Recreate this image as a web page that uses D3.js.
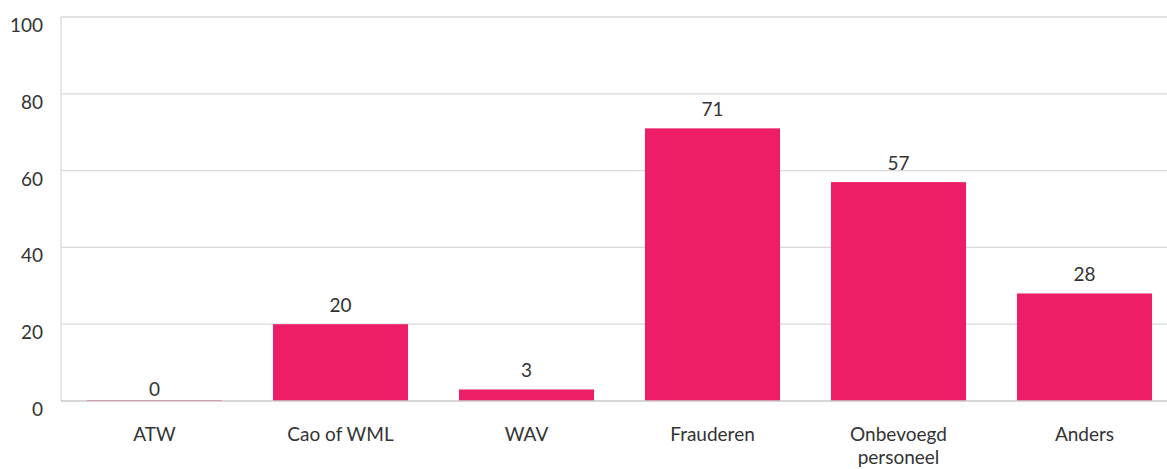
<!DOCTYPE html>
<html>
<head>
<meta charset="utf-8">
<script src="https://cdn.jsdelivr.net/npm/d3@7/dist/d3.min.js"></script>
<style>
  body { margin: 0; background: #fff; }
  text { font-family: "Lato", "Open Sans", sans-serif; fill: #333; }
</style>
</head>
<body>
<svg id="chart" width="1167" height="469"></svg>
<script>
var categories = ["ATW", "Cao of WML", "WAV", "Frauderen", "Onbevoegd personeel", "Anders"];
var values = [0, 20, 3, 71, 57, 28];
var yTicks = [0, 20, 40, 60, 80, 100];

var svg = d3.select("#chart"),
    margin = {top: 17, left: 61},
    height = 384;

var x = d3.scaleBand()
    .domain(categories)
    .range([61.5, 1177.5])
    .paddingInner(0.274)
    .paddingOuter(0.137);

var y = d3.scaleLinear()
    .domain([0, 100])
    .range([margin.top + height, margin.top]);

// gridlines
svg.append("g").selectAll("line")
    .data(yTicks.filter(function (d) { return d > 0; }))
    .enter().append("line")
    .attr("x1", margin.left).attr("x2", 1167)
    .attr("y1", function (d) { return y(d); })
    .attr("y2", function (d) { return y(d); })
    .attr("stroke", "#d9d9d9")
    .attr("stroke-width", 1.3);

// left axis line
svg.append("line")
    .attr("x1", margin.left).attr("x2", margin.left)
    .attr("y1", y(100)).attr("y2", y(0))
    .attr("stroke", "#d9d9d9")
    .attr("stroke-width", 1.3);

// y tick labels
svg.append("g").selectAll("text")
    .data(yTicks)
    .enter().append("text")
    .attr("x", 43)
    .attr("y", function (d) { return y(d) + 15; })
    .attr("text-anchor", "end")
    .style("font-size", "19px")
    .text(function (d) { return d; });

// bars
svg.append("g").selectAll("rect")
    .data(values)
    .enter().append("rect")
    .attr("x", function (d, i) { return x(categories[i]); })
    .attr("width", x.bandwidth())
    .attr("y", function (d) { return y(d) - (d === 0 ? 1 : 0); })
    .attr("height", function (d) { return Math.max(1, y(0) - y(d)); })
    .attr("fill", "#ed1e67");

// baseline
svg.append("line")
    .attr("x1", margin.left).attr("x2", 1167)
    .attr("y1", y(0)).attr("y2", y(0))
    .attr("stroke", "#c8c8c8")
    .attr("stroke-width", 1.5);

// value labels (the empty bar gets its label closer to the axis)
svg.append("g").selectAll("text")
    .data(values)
    .enter().append("text")
    .attr("x", function (d, i) { return x(categories[i]) + x.bandwidth() / 2; })
    .attr("y", function (d) { return y(d) - (d === 0 ? 5 : 12); })
    .attr("text-anchor", "middle")
    .style("font-size", "19px")
    .text(function (d) { return d; });

// category labels
var catLabels = svg.append("g").selectAll("text")
    .data(categories)
    .enter().append("text")
    .attr("x", function (d) { return x(d) + x.bandwidth() / 2; })
    .attr("y", 441)
    .attr("text-anchor", "middle")
    .style("font-size", "19px");

catLabels.each(function (d) {
    var t = d3.select(this);
    var lines = d === "Onbevoegd personeel" ? ["Onbevoegd", "personeel"] : [d];
    lines.forEach(function (l, i) {
        t.append("tspan")
            .attr("x", x(d) + x.bandwidth() / 2)
            .attr("dy", i === 0 ? 0 : 23)
            .text(l);
    });
});
</script>
</body>
</html>
